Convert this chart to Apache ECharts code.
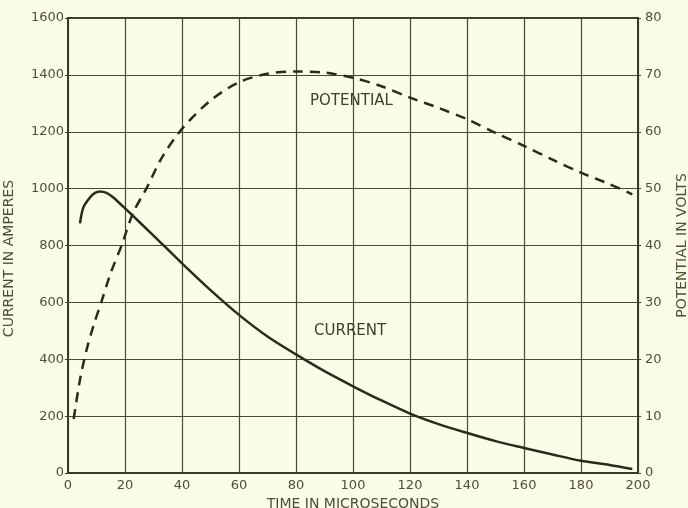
<!DOCTYPE html>
<html>
<head>
<meta charset="utf-8">
<script src="https://cdn.jsdelivr.net/npm/echarts@6/dist/echarts.min.js"></script>
<style>
html,body{margin:0;padding:0;background:#fcfde8;}
#c{width:688px;height:508px;}
</style>
</head>
<body>
<div id="c"></div>
<script>
// Time (microseconds), current (amperes)
const currentData = [
  [4.2,878],[5.4,934],[7.7,969],[9.5,985],[11.2,990],[13.5,985],[15.9,969],
  [20.6,925],[30,835],[40,737],[50,643],[60,556],
  [70,480],[80,417],[90,358],[100,305],[110,255],[120,209],[130,172],[140,141],
  [150,112],[160,88],[170,65],[180,43],[190,28],[198,14]
];
// Time (microseconds), potential (volts)
const potentialData = [
  [2,9.5],[4.2,16.4],[6.5,21.6],[9,26],[11.8,30.2],[15,35.2],[18.8,40],
  [22.9,45.8],[27.5,50],[33,55.5],[40,60.5],[50,65.5],[60,68.7],[70,70.2],
  [80,70.6],[90,70.4],[100,69.5],[110,68],[120,66],[130,64.2],[140,62.2],
  [150,59.8],[160,57.5],[170,55.1],[180,52.8],[190,50.8],[198,49]
];
const xTicks = {min:0, max:200, interval:20};
const leftTicks = {min:0, max:1600, interval:200};
const rightTicks = {min:0, max:80, interval:10};

const ink = '#3a3a26';
const txt = '#4f4f35';
const font = 'DejaVu Sans';
const plain = v => String(v);

const chart = echarts.init(document.getElementById('c'), null, {renderer:'canvas'});
chart.setOption({
  backgroundColor:'#fcfde8',
  animation:false,
  grid:{left:68,right:50,top:18,bottom:35,outerBoundsMode:'none',containLabel:false,
        show:true,borderColor:ink,borderWidth:2,backgroundColor:'transparent'},
  xAxis:{
    type:'value', min:xTicks.min, max:xTicks.max, interval:xTicks.interval,
    name:'TIME IN MICROSECONDS', nameLocation:'middle', nameGap:19,
    nameTextStyle:{color:txt,fontFamily:font,fontSize:14},
    axisLine:{show:true,lineStyle:{color:ink,width:2}},
    axisTick:{show:false},
    axisLabel:{color:txt,fontFamily:font,fontSize:13,margin:6,formatter:plain},
    splitLine:{show:true,lineStyle:{color:'#4a4a32',width:1.2}}
  },
  yAxis:[{
    type:'value', min:leftTicks.min, max:leftTicks.max, interval:leftTicks.interval,
    name:'CURRENT IN AMPERES', nameLocation:'middle', nameGap:52,
    nameTextStyle:{color:txt,fontFamily:font,fontSize:14,padding:[0,26,0,0]},
    axisLine:{show:true,lineStyle:{color:ink,width:2}},
    axisTick:{show:true,length:3,lineStyle:{color:ink}},
    axisLabel:{color:txt,fontFamily:font,fontSize:13,margin:4,formatter:plain},
    splitLine:{show:true,lineStyle:{color:'#4a4a32',width:1.2}}
  },{
    type:'value', position:'right', min:rightTicks.min, max:rightTicks.max, interval:rightTicks.interval,
    name:'POTENTIAL IN VOLTS', nameLocation:'middle', nameGap:37, nameRotate:90,
    nameTextStyle:{color:txt,fontFamily:font,fontSize:14},
    axisLine:{show:true,lineStyle:{color:ink,width:2}},
    axisTick:{show:true,length:3,lineStyle:{color:ink}},
    axisLabel:{color:txt,fontFamily:font,fontSize:13,margin:7,formatter:plain},
    splitLine:{show:false}
  }],
  series:[{
    type:'line', name:'Current', yAxisIndex:0, data:currentData, smooth:0.3,
    showSymbol:false, lineStyle:{color:'#2b2b1b',width:2.5}
  },{
    type:'line', name:'Potential', yAxisIndex:1, data:potentialData, smooth:0.3,
    showSymbol:false, lineStyle:{color:'#2b2b1b',width:2.5,type:[10,7]}
  }],
  graphic:[
    {type:'text',left:310,top:94,style:{text:'POTENTIAL',fill:'#3f3f2a',font:'15px DejaVu Sans'}},
    {type:'text',left:314,top:324,style:{text:'CURRENT',fill:'#3f3f2a',font:'15px DejaVu Sans'}}
  ]
});
</script>
</body>
</html>
